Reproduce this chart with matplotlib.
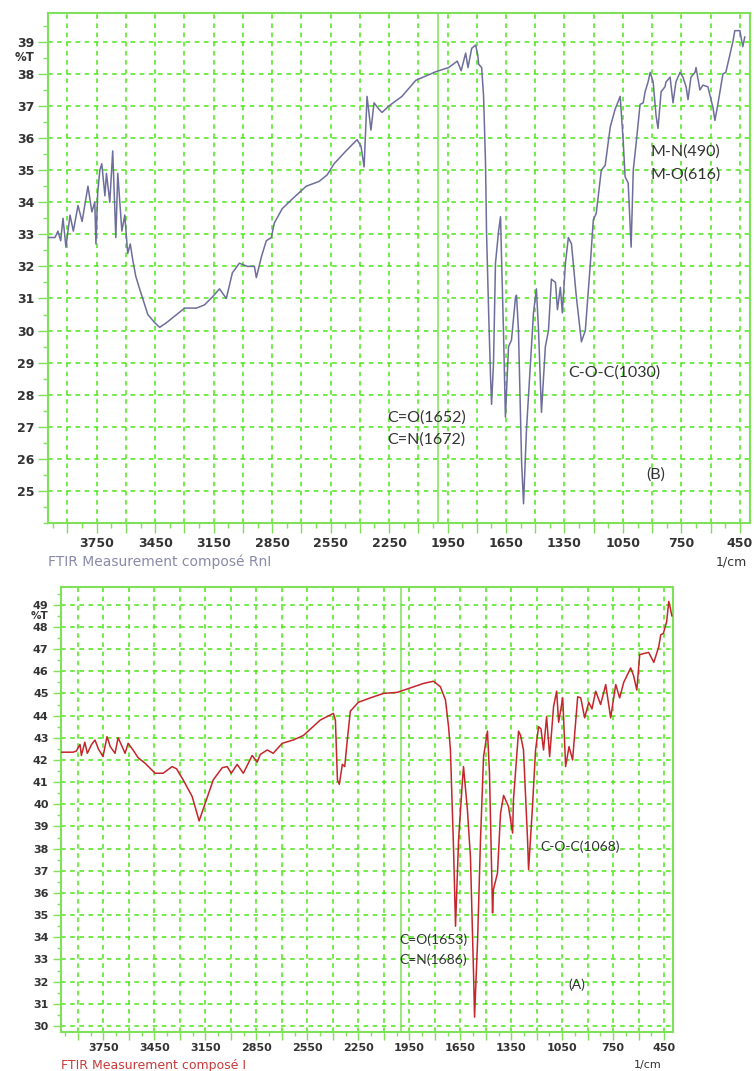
import numpy as np
import matplotlib
matplotlib.use("Agg")
import matplotlib.pyplot as plt
from matplotlib.ticker import MultipleLocator
import matplotlib.transforms as mtransforms

# spectre (B) : composé RnI
wn_b = [4000, 3964, 3949, 3935, 3923, 3908, 3887, 3870, 3846, 3825, 3795, 3775, 3760, 3754,
        3745, 3734, 3724, 3708, 3700, 3683, 3668, 3652, 3642, 3621, 3606, 3591, 3578, 3565,
        3550, 3530, 3514, 3488, 3453, 3427, 3391, 3340, 3299, 3238, 3197, 3156, 3120, 3085,
        3054, 3018, 2977, 2941, 2931, 2905, 2880, 2854, 2839, 2798, 2747, 2675, 2609, 2568,
        2532, 2471, 2414, 2394, 2378, 2363, 2343, 2327, 2302, 2286, 2251, 2184, 2113, 2010,
        1944, 1900, 1880, 1857, 1845, 1826, 1806, 1795, 1790, 1775, 1765, 1755, 1750, 1739,
        1729, 1724, 1714, 1704, 1688, 1678, 1673, 1663, 1653, 1637, 1622, 1601, 1596, 1586,
        1570, 1560, 1545, 1524, 1509, 1494, 1483, 1468, 1448, 1432, 1417, 1396, 1386, 1371,
        1361, 1345, 1330, 1314, 1289, 1263, 1243, 1217, 1202, 1187, 1161, 1141, 1115, 1090,
        1064, 1049, 1039, 1023, 1008, 997, 982, 962, 946, 936, 921, 910, 895, 880, 870, 854,
        834, 829, 808, 793, 778, 757, 742, 726, 716, 701, 680, 675, 655, 640, 614, 588, 578,
        563, 537, 522, 501, 486, 476, 450, 435, 425]
t_b = [32.9, 32.9, 33.1, 32.8, 33.5, 32.6, 33.6, 33.1, 33.9, 33.4, 34.5, 33.7, 34.0, 32.7,
       34.3, 35.0, 35.2, 34.2, 34.9, 34.0, 35.6, 32.9, 34.9, 33.1, 33.6, 32.4, 32.7, 32.2,
       31.7, 31.3, 31.0, 30.5, 30.25, 30.1, 30.25, 30.5, 30.7, 30.7, 30.8, 31.05, 31.3, 31.0,
       31.8, 32.1, 32.0, 32.0, 31.65, 32.3, 32.8, 32.9, 33.35, 33.8, 34.1, 34.5, 34.65, 34.85,
       35.2, 35.6, 35.95, 35.75, 35.1, 37.3, 36.25, 37.1, 36.9, 36.8, 37.0, 37.3, 37.8, 38.07,
       38.2, 38.4, 38.1, 38.65, 38.2, 38.8, 38.9, 38.6, 38.3, 38.2, 37.3, 35.2, 33.1, 30.55,
       28.5, 27.7, 29.0, 32.1, 33.1, 33.55, 32.3, 30.0, 27.3, 29.5, 29.7, 31.05, 31.1, 30.0,
       25.9, 24.6, 26.9, 29.0, 30.55, 31.3, 30.0, 27.45, 29.5, 30.0, 31.6, 31.5, 30.65, 31.35,
       30.55, 32.1, 32.9, 32.7, 31.05, 29.65, 30.0, 32.1, 33.45, 33.65, 35.0, 35.15, 36.35, 36.9,
       37.3, 35.95, 34.8, 34.6, 32.6, 35.0, 35.85, 37.05, 37.1, 37.45, 37.75, 38.05, 37.75, 36.7,
       36.3, 37.45, 37.6, 37.75, 37.9, 37.1, 37.75, 38.05, 37.9, 37.6, 37.2, 37.9, 38.05, 38.2,
       37.5, 37.65, 37.6, 36.95, 36.55, 37.05, 38.0, 38.05, 38.6, 39.0, 39.35, 39.35, 38.85, 39.15]

# spectre (A) : composé I
wn_a = [4000, 3929, 3910, 3888, 3880, 3860, 3845, 3820, 3800, 3780, 3753, 3729, 3710, 3682,
        3664, 3640, 3623, 3605, 3576, 3546, 3505, 3446, 3399, 3346, 3320, 3281, 3228, 3187,
        3151, 3104, 3051, 3022, 2998, 2963, 2927, 2875, 2845, 2827, 2786, 2751, 2698, 2633,
        2574, 2474, 2397, 2385, 2373, 2362, 2344, 2330, 2315, 2297, 2250, 2179, 2102, 2020,
        1943, 1867, 1808, 1767, 1737, 1719, 1708, 1690, 1678, 1660, 1637, 1631, 1608, 1590,
        1572, 1566, 1548, 1531, 1513, 1490, 1478, 1460, 1455, 1431, 1413, 1395, 1366, 1342,
        1337, 1307, 1295, 1278, 1254, 1248, 1225, 1207, 1189, 1175, 1160, 1142, 1124, 1101,
        1083, 1071, 1047, 1030, 1010, 989, 959, 941, 918, 894, 875, 853, 824, 794, 765, 735,
        712, 688, 647, 630, 611, 594, 570, 541, 511, 482, 470, 455, 435, 423, 415, 405]
t_a = [42.35, 42.35, 42.4, 42.7, 42.2, 42.8, 42.3, 42.7, 42.9, 42.5, 42.15, 43.05, 42.6, 42.3,
       43.0, 42.6, 42.3, 42.75, 42.45, 42.1, 41.85, 41.4, 41.4, 41.7, 41.6, 41.1, 40.35, 39.25,
       40.05, 41.1, 41.65, 41.7, 41.4, 41.8, 41.4, 42.2, 41.9, 42.25, 42.45, 42.3, 42.75, 42.9,
       43.1, 43.8, 44.1, 43.8, 41.1, 40.9, 41.8, 41.7, 42.9, 44.2, 44.6, 44.8, 45.0, 45.05,
       45.25, 45.45, 45.55, 45.3, 44.7, 43.5, 42.45, 38.1, 34.5, 38.4, 41.1, 41.7, 39.75, 37.6,
       32.4, 30.4, 33.9, 38.4, 42.15, 43.3, 41.4, 35.1, 36.15, 36.9, 39.6, 40.4, 39.9, 38.7,
       40.2, 43.3, 43.1, 42.45, 38.4, 37.05, 39.9, 42.45, 43.5, 43.4, 42.45, 43.95, 42.15, 44.4,
       45.1, 43.7, 44.8, 41.7, 42.6, 42.0, 44.85, 44.8, 43.9, 44.6, 44.3, 45.1, 44.5, 45.4, 43.9, 45.4,
       44.8, 45.5, 46.15, 45.8, 45.15, 46.75, 46.8, 46.85, 46.4, 47.1, 47.65, 47.7, 48.25, 49.15, 48.9, 48.5]

GRID_GREEN = '#4de619'
FRAME_GREEN = '#7fe05a'
TICK_COLOR = '#333333'
LABEL_FONT = ['DejaVu Sans']
NOTE_FONT = ['Lato', 'DejaVu Sans']


def draw_panel(ax, wn, t, color, ylim, yticks, caption, caption_color, notes,
               fs=9, note_fs=11.5, tick_len=7, xpad=3, ypad=3, cap_off=28,
               cm_off=2, pct_y=None):
    ax.plot(wn, t, color=color, lw=1.1, zorder=3)
    ax.set_xlim(4000, 398)
    ax.set_ylim(*ylim)

    # graduations
    xt = np.arange(450, 4000, 150)
    ax.set_xticks(xt)
    ax.set_xticklabels([str(v) if (v - 450) % 300 == 0 else '' for v in xt])
    ax.xaxis.set_minor_locator(MultipleLocator(75))
    ax.set_yticks(yticks)
    ax.yaxis.set_minor_locator(MultipleLocator(0.5))
    ax.tick_params(which='major', length=tick_len, width=1, color=FRAME_GREEN,
                   labelsize=fs, labelcolor=TICK_COLOR)
    ax.tick_params(axis='x', which='major', pad=xpad)
    ax.tick_params(axis='y', which='major', pad=ypad)
    ax.tick_params(which='minor', length=tick_len / 2, width=1, color=FRAME_GREEN)
    for lab in ax.get_xticklabels() + ax.get_yticklabels():
        lab.set_family(LABEL_FONT)
        lab.set_fontweight('bold')

    ax.grid(True, which='major', color=GRID_GREEN, ls=(0, (3, 3)), lw=1.1)
    ax.axvline(2000, color=FRAME_GREEN, lw=1.1, zorder=2)
    for sp in ax.spines.values():
        sp.set_color(FRAME_GREEN)
        sp.set_linewidth(1.5)

    # %T, 1/cm et légende du bas
    if pct_y is None:
        pct_y = yticks[-1] - 0.5
    trans = mtransforms.blended_transform_factory(ax.transAxes, ax.transData)
    ax.annotate('%T', xy=(0, pct_y), xycoords=trans, xytext=(-tick_len - ypad, 0),
                textcoords='offset points', ha='right', va='center',
                fontsize=fs - 0.5, color=TICK_COLOR, family=LABEL_FONT, fontweight='bold')
    ax.annotate('1/cm', xy=(1, 0), xycoords='axes fraction', xytext=(-cm_off, -cap_off),
                textcoords='offset points', ha='right', va='center',
                fontsize=fs, color=TICK_COLOR, family=LABEL_FONT)
    ax.annotate(caption, xy=(0, 0), xycoords='axes fraction', xytext=(0, -cap_off),
                textcoords='offset points', ha='left', va='center',
                fontsize=fs + 1, color=caption_color, family=LABEL_FONT)

    for txt, x, y in notes:
        ax.text(x, y, txt, ha='left', va='center', fontsize=note_fs, color='#333333',
                family=NOTE_FONT, zorder=4)


def main():
    fig = plt.figure(figsize=(7.54, 10.71), dpi=100)

    ax_b = fig.add_axes([48 / 754, 1 - 523 / 1071, 702 / 754, 510 / 1071])
    draw_panel(ax_b, wn_b, t_b, '#6e6e9c', (24.0, 39.9), list(range(25, 40)),
               'FTIR Measurement composé RnI', '#8a8aaa',
               [('M-N(490)', 911, 35.57), ('M-O(616)', 911, 34.86),
                ('C-O-C(1030)', 1330, 28.7), ('C=O(1652)', 2261, 27.3),
                ('C=N(1672)', 2261, 26.6), ('(B)', 931, 25.5)],
               fs=9, note_fs=11.5, tick_len=7, xpad=3, ypad=3, cap_off=28, cm_off=2)

    ax_a = fig.add_axes([61 / 754, 1 - 1032 / 1071, 612 / 754, 445 / 1071])
    draw_panel(ax_a, wn_a, t_a, '#c4262b', (29.73, 49.8), list(range(30, 50)),
               'FTIR Measurement composé I', '#c83a3a',
               [('C-O-C(1068)', 1177, 38.1), ('C=O(1653)', 2008, 33.9),
                ('C=N(1686)', 2008, 33.0), ('(A)', 1012, 31.85)],
               fs=8, note_fs=10, tick_len=6, xpad=2, ypad=3, cap_off=24, cm_off=8,
               pct_y=48.5)

    fig.savefig('out.png', dpi=100)
    plt.close(fig)


if __name__ == '__main__':
    main()
